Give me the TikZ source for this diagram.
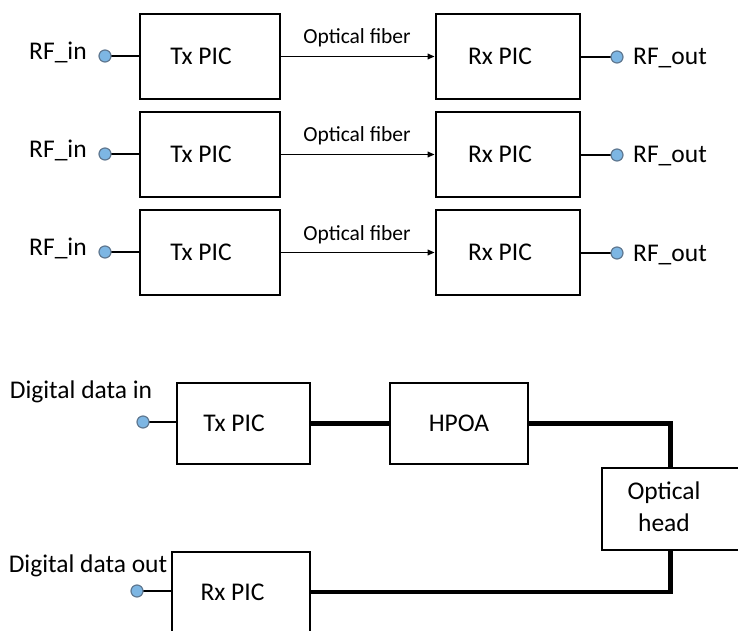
\documentclass[tikz,border=0pt]{standalone}
\usepackage{fontspec}
\setmainfont{Carlito}
\usetikzlibrary{arrows.meta,calc}
\definecolor{portfill}{RGB}{125,182,227}
\definecolor{portline}{RGB}{95,120,145}
\pgfdeclarelayer{bg}
\pgfsetlayers{bg,main}
\begin{document}
\begin{tikzpicture}[x=1pt,y=-1pt,
  bigfont/.style={font=\fontsize{25.5}{30}\selectfont},
  box/.style={draw, line width=2.6pt, inner sep=0pt, bigfont},
  port/.style={circle, draw=portline, fill=portfill, line width=1.2pt, minimum size=12pt, inner sep=0pt},
  lbl/.style={bigfont, inner sep=0pt, anchor=base},
  smalllbl/.style={font=\fontsize{21.5}{26}\selectfont, inner sep=0pt, anchor=base},
  wire/.style={line width=2.4pt},
  bus/.style={line width=4.5pt},
  fiber/.style={line width=1.6pt, -{Triangle[length=7pt,width=5.5pt]}}
]
\useasboundingbox (0,0) rectangle (738,631);

\foreach \k in {0,1,2}{
  \pgfmathsetmacro{\dy}{98*\k}
  \node[box, minimum width=140pt, minimum height=85pt] (tx\k) at (210,56.5+\dy) {Tx PIC\kern18pt};
  \node[box, minimum width=144pt, minimum height=85pt] (rx\k) at (508,56.5+\dy) {Rx PIC\kern16pt};
  \node[port] (pin\k) at (105,56+\dy) {};
  \node[port] (pout\k) at (617,57+\dy) {};
  \node[lbl] (rfin\k) at (58,59.5+\dy) {RF\_in};
  \node[lbl] (rfout\k) at (670,65+\dy) {RF\_out};
  \node[smalllbl] (of\k) at (357,44+\dy) {Optical fiber};
  \begin{pgfonlayer}{bg}
    \draw[wire] (pin\k.center) -- (pin\k -| tx\k.west);
    \draw[wire] (rx\k.east |- pout\k) -- (pout\k.center);
  \end{pgfonlayer}
  \draw[fiber] (tx\k.east) -- (rx\k.west);
}

% bottom part
\node[box, minimum width=133pt, minimum height=81pt] (txb) at (243.5,423.5) {Tx PIC\kern19pt};
\node[box, minimum width=138pt, minimum height=81pt] (hpoa) at (459,423.5) {HPOA};
\node[box, minimum width=158pt, minimum height=82pt] (head) at (681,509) {};
\node[lbl] (headtxt1) at (664,499) {Optical};
\node[lbl] (headtxt2) at (664,531) {head};
\node[box, minimum width=138pt, minimum height=80pt] (rxb) at (241,592) {Rx PIC\kern17pt};
\node[port] (dpin) at (143,422) {};
\node[port] (dpout) at (137,591) {};
\node[lbl] (din) at (81,398) {Digital data in};
\node[lbl] (dout) at (88,572) {Digital data out};

\coordinate (htop) at ($(head.north west)+(70,0)$);
\coordinate (hbot) at ($(head.south west)+(70,0)$);

\begin{pgfonlayer}{bg}
  \draw[wire] (dpin.center) -- (dpin -| txb.west);
  \draw[wire] (dpout.center) -- (dpout -| rxb.west);
\end{pgfonlayer}
\draw[bus] (txb.east) -- (hpoa.west);
\draw[bus] (hpoa.east) -| (htop);
\draw[bus] (hbot) |- (rxb.east);
\end{tikzpicture}
\end{document}
